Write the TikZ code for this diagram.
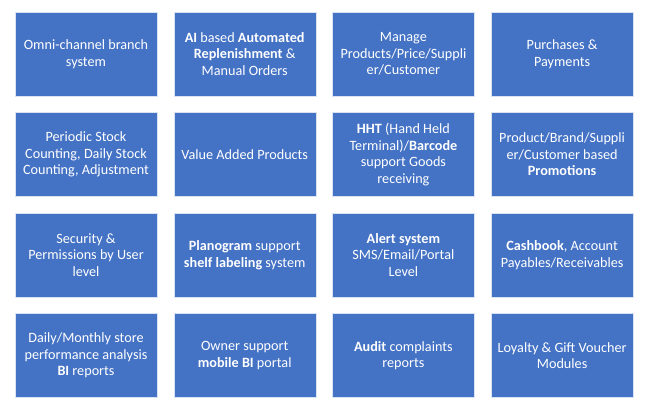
\documentclass[tikz,border=0pt]{standalone}
\usepackage{fontspec}
\setmainfont{Carlito}
\usetikzlibrary{positioning}
\definecolor{boxblue}{HTML}{4472C4}

\begin{document}
\begin{tikzpicture}[x=1pt,y=1pt,
	feat/.style={rectangle, fill=boxblue, draw=white!80!boxblue, line width=0.4pt, text=white, align=center,
		minimum width=142pt, minimum height=84pt, inner sep=2pt, outer sep=0pt,
		font=\fontsize{14.2}{16.6}\selectfont},
	node distance=16.5pt and 16.7pt
	]
	\useasboundingbox (0,0) rectangle (647,-410);
	
	% row 1
	\node[feat] (omni) at (86,-54) {Omni-channel branch\\system};
	\node[feat] (repl) [right=of omni] {\textbf{AI} based \textbf{Automated}\\\textbf{Replenishment} \&\\Manual Orders};
	\node[feat] (mng)  [right=of repl] {Manage\\Products/Price/Suppli\\er/Customer};
	\node[feat] (pur)  [right=of mng]  {Purchases \&\\Payments};
	
	% row 2
	\node[feat] (stock) [below=of omni]  {Periodic Stock\\Counting, Daily Stock\\Counting, Adjustment};
	\node[feat] (vap)   [below=of repl]  {Value Added Products};
	\node[feat] (hht)   [below=of mng]   {\textbf{HHT} (Hand Held\\Terminal)/\textbf{Barcode}\\support Goods\\receiving};
	\node[feat] (promo) [below=of pur]   {Product/Brand/Suppli\\er/Customer based\\\textbf{Promotions}};
	
	% row 3
	\node[feat] (sec)   [below=of stock] {Security \&\\Permissions by User\\level};
	\node[feat] (plano) [below=of vap]   {\textbf{Planogram} support\\\textbf{shelf labeling} system};
	\node[feat] (alert) [below=of hht]   {\textbf{Alert system}\\SMS/Email/Portal\\Level};
	\node[feat] (cash)  [below=of promo] {\textbf{Cashbook}, Account\\Payables/Receivables};
	
	% row 4
	\node[feat] (perf)  [below=of sec]   {Daily/Monthly store\\performance analysis\\\textbf{BI} reports};
	\node[feat] (owner) [below=of plano] {Owner support\\\textbf{mobile BI} portal};
	\node[feat] (audit) [below=of alert] {\textbf{Audit} complaints\\reports};
	\node[feat] (loyal) [below=of cash]  {Loyalty \& Gift Voucher\\Modules};
	
\end{tikzpicture}
\end{document}
